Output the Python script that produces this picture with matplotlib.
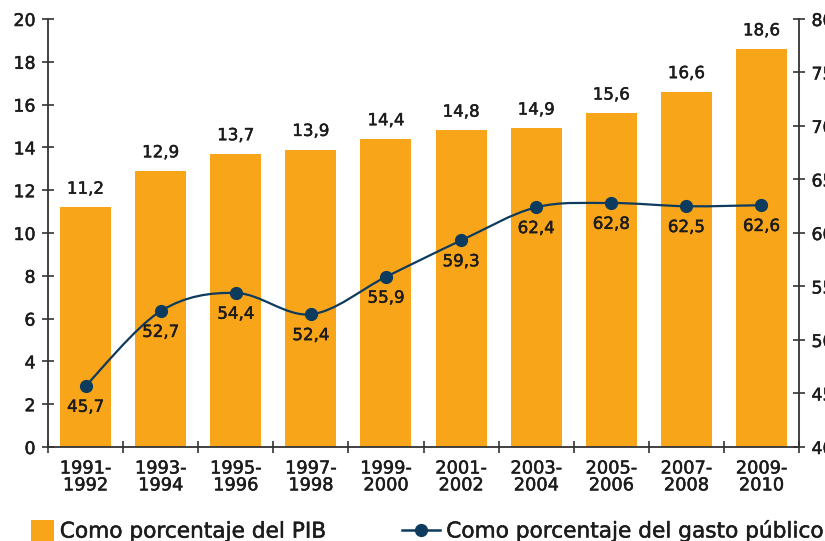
import numpy as np
import matplotlib
matplotlib.use('Agg')
import matplotlib.pyplot as plt
import matplotlib.patheffects as pe
from matplotlib.path import Path
from matplotlib.patches import PathPatch, Patch
from matplotlib.lines import Line2D

plt.rcParams['font.family'] = ['DejaVu Sans']

# datos
periodos = ["1991-\n1992", "1993-\n1994", "1995-\n1996", "1997-\n1998", "1999-\n2000",
            "2001-\n2002", "2003-\n2004", "2005-\n2006", "2007-\n2008", "2009-\n2010"]
pct_pib = [11.2, 12.9, 13.7, 13.9, 14.4, 14.8, 14.9, 15.6, 16.6, 18.6]
pct_gasto = [45.7, 52.7, 54.4, 52.4, 55.9, 59.3, 62.4, 62.8, 62.5, 62.6]

naranja = '#F9A51A'
azul = '#0D3B5E'
texto = '#1c1c1c'
grueso = [pe.withStroke(linewidth=0.35, foreground=texto)]


def fmt(v):
    return f"{v:.1f}".replace('.', ',')


def curva_suave(xs, ys):
    # Catmull-Rom -> bezier cubica
    verts = [(xs[0], ys[0])]
    codes = [Path.MOVETO]
    n = len(xs)
    for i in range(n - 1):
        x0, y0 = (xs[i - 1], ys[i - 1]) if i > 0 else (xs[i], ys[i])
        x1, y1 = xs[i], ys[i]
        x2, y2 = xs[i + 1], ys[i + 1]
        x3, y3 = (xs[i + 2], ys[i + 2]) if i + 2 < n else (x2, y2)
        c1 = (x1 + (x2 - x0) / 6, y1 + (y2 - y0) / 6)
        c2 = (x2 - (x3 - x1) / 6, y2 - (y3 - y1) / 6)
        verts += [c1, c2, (x2, y2)]
        codes += [Path.CURVE4] * 3
    return Path(verts, codes)


fig = plt.figure(figsize=(8.25, 5.41), dpi=100)
ax = fig.add_axes([48 / 825, 1 - 447 / 541, 751 / 825, 428 / 541])
ax2 = ax.twinx()

x = np.arange(len(periodos))
ax.bar(x, pct_pib, width=0.68, color=naranja, zorder=2)
for xi, v in zip(x, pct_pib):
    ax.text(xi, v + 0.45, fmt(v), ha='center', va='bottom', fontsize=12, color=texto,
            path_effects=grueso)

ax.set_xlim(-0.5, len(periodos) - 0.5)
ax.set_ylim(0, 20)
ax.set_yticks(np.arange(0, 21, 2))
ax.set_xticks(np.arange(-0.5, len(periodos), 1))
ax.set_xticklabels([])
ax.set_xticks(x, minor=True)
ax.set_xticklabels(periodos, minor=True)
ax.tick_params(axis='x', which='major', direction='inout', length=9, width=1.2, color='#333333')
ax.tick_params(axis='x', which='minor', length=0, pad=9, labelsize=12.8, labelcolor=texto)
ax.tick_params(axis='y', direction='inout', length=8, width=1.2, color='#333333',
               labelsize=12.5, labelcolor=texto, pad=5)
for lbl in ax.get_xticklabels(minor=True):
    lbl.set_linespacing(0.92)
    lbl.set_path_effects(grueso)
for lbl in ax.get_yticklabels():
    lbl.set_path_effects(grueso)

for s in ['top', 'right']:
    ax.spines[s].set_visible(False)
ax.spines['left'].set_linewidth(1.3)
ax.spines['bottom'].set_linewidth(1.3)
ax.spines['left'].set_color('#333333')
ax.spines['bottom'].set_color('#333333')

ax2.set_ylim(40, 80)
ax2.set_yticks(np.arange(40, 81, 5))
ax2.tick_params(axis='y', direction='inout', length=8, width=1.2, color='#333333',
                labelsize=12.5, labelcolor=texto, pad=5)
for lbl in ax2.get_yticklabels():
    lbl.set_path_effects(grueso)
for s in ['top', 'left', 'bottom']:
    ax2.spines[s].set_visible(False)
ax2.spines['right'].set_linewidth(1.3)
ax2.spines['right'].set_color('#333333')

ax2.add_patch(PathPatch(curva_suave(list(x), pct_gasto), fill=False, edgecolor=azul,
                        linewidth=1.6, zorder=3))
ax2.plot(x, pct_gasto, linestyle='none', marker='o', markersize=8.5, color=azul, zorder=4)
for xi, v in zip(x, pct_gasto):
    ax2.text(xi, v - 1.1, fmt(v), ha='center', va='top', fontsize=12, color=texto, zorder=5,
             path_effects=grueso)

# leyenda: dos bloques separados
leg1 = fig.legend([Patch(facecolor=naranja, edgecolor='none')], ["Como porcentaje del PIB"],
                  loc='center left', bbox_to_anchor=(0.037, 0.019), frameon=False, fontsize=15.6,
                  handlelength=1.1, handleheight=1.1, handletextpad=0.25, labelcolor=texto,
                  borderaxespad=0, borderpad=0)
leg2 = fig.legend([Line2D([0], [0], color=azul, linewidth=1.8, marker='o', markersize=8.5)],
                  ["Como porcentaje del gasto público"],
                  loc='center left', bbox_to_anchor=(0.487, 0.019), frameon=False, fontsize=15.6,
                  handlelength=1.75, handletextpad=0.3, labelcolor=texto,
                  borderaxespad=0, borderpad=0)
for leg in (leg1, leg2):
    for t in leg.get_texts():
        t.set_path_effects(grueso)

fig.savefig('out.png', dpi=100)
